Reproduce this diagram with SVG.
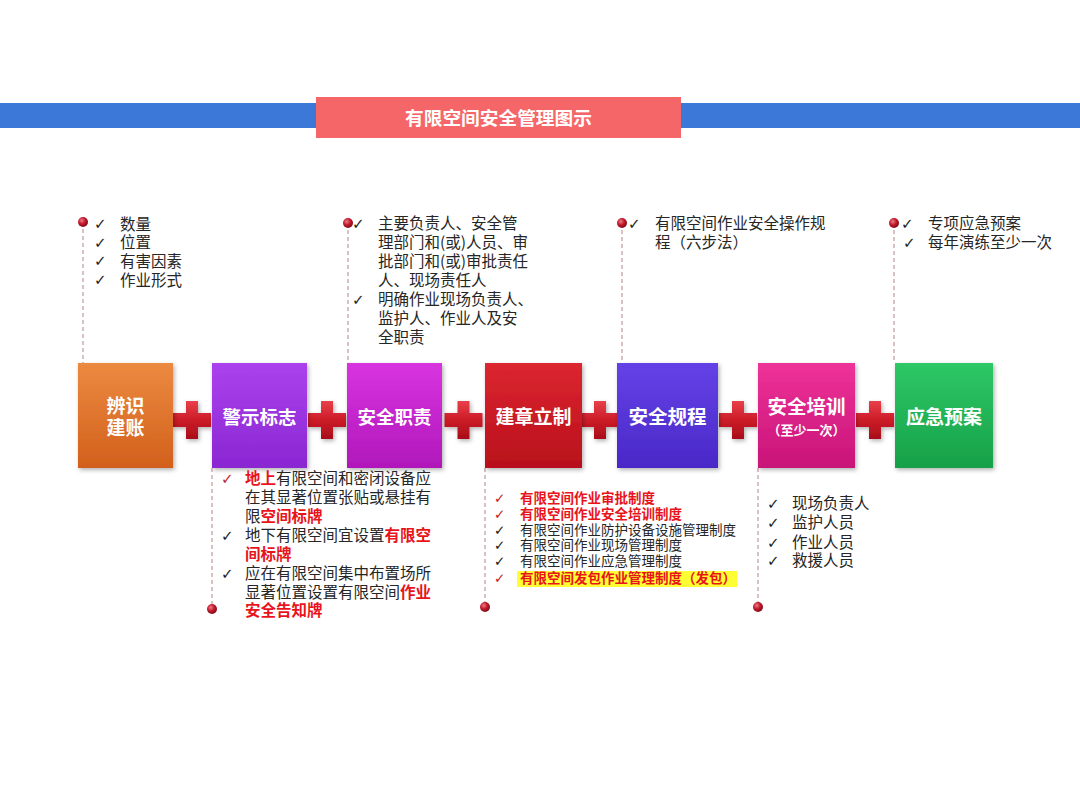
<svg xmlns="http://www.w3.org/2000/svg" width="1080" height="810" viewBox="0 0 1080 810">
<defs>
<style>
.t{font-family:"Noto Sans CJK SC","Noto Sans",sans-serif;fill:#262626;}
.ck{font-family:"DejaVu Sans",sans-serif;fill:#1e1e1e;}
.ckr{font-family:"DejaVu Sans",sans-serif;fill:#c0282e;}
.r{fill:#e8141c;font-weight:bold;}
.lbl{font-family:"Noto Sans CJK SC","Noto Sans",sans-serif;fill:#ffffff;font-weight:bold;text-anchor:middle;}
.dash{stroke:#c49a9a;stroke-width:1.2;stroke-dasharray:4 3;fill:none;}
</style>
<radialGradient id="dot" cx="0.38" cy="0.35" r="0.7">
<stop offset="0" stop-color="#f07a86"/>
<stop offset="0.5" stop-color="#c01a2c"/>
<stop offset="1" stop-color="#7a0a16"/>
</radialGradient>
<linearGradient id="gPlus" x1="0" y1="0" x2="0" y2="1">
<stop offset="0" stop-color="#e8404a"/>
<stop offset="0.5" stop-color="#cc1c28"/>
<stop offset="1" stop-color="#a80e1a"/>
</linearGradient>
<linearGradient id="g1" x1="0" y1="0" x2="0" y2="1"><stop offset="0" stop-color="#ec8a40"/><stop offset="1" stop-color="#d2601c"/></linearGradient>
<linearGradient id="g2" x1="0" y1="0" x2="0" y2="1"><stop offset="0" stop-color="#ab42ee"/><stop offset="1" stop-color="#8a26d2"/></linearGradient>
<linearGradient id="g3" x1="0" y1="0" x2="0" y2="1"><stop offset="0" stop-color="#d834e0"/><stop offset="1" stop-color="#b018ba"/></linearGradient>
<linearGradient id="g4" x1="0" y1="0" x2="0" y2="1"><stop offset="0" stop-color="#dc2630"/><stop offset="1" stop-color="#b8101c"/></linearGradient>
<linearGradient id="g5" x1="0" y1="0" x2="0" y2="1"><stop offset="0" stop-color="#6442e6"/><stop offset="1" stop-color="#4a28c8"/></linearGradient>
<linearGradient id="g6" x1="0" y1="0" x2="0" y2="1"><stop offset="0" stop-color="#ee3298"/><stop offset="1" stop-color="#c81478"/></linearGradient>
<linearGradient id="g7" x1="0" y1="0" x2="0" y2="1"><stop offset="0" stop-color="#2ec866"/><stop offset="1" stop-color="#17a048"/></linearGradient>
<filter id="sh" x="-10%" y="-10%" width="125%" height="125%">
<feDropShadow dx="1.5" dy="2" stdDeviation="2" flood-color="#000" flood-opacity="0.3"/>
</filter>
<path id="plus" d="M-6,-19 H6 V-7 H19 V7 H6 V19 H-6 V7 H-19 V-7 H-6 Z" fill="url(#gPlus)" filter="url(#sh)"/>
</defs>
<rect width="1080" height="810" fill="#ffffff"/>

<g id="header">
<rect x="0" y="103" width="1080" height="25" fill="#3c78d8"/>
<rect x="316" y="97" width="365" height="41" fill="#f56668"/>
<text class="lbl" x="498.5" y="124.5" font-size="18.7">有限空间安全管理图示</text>
</g>

<g id="connectors">
<line class="dash" x1="83" y1="222" x2="83" y2="363"/>
<line class="dash" x1="348" y1="223" x2="348" y2="363"/>
<line class="dash" x1="622" y1="223" x2="622" y2="363"/>
<line class="dash" x1="894" y1="223" x2="894" y2="363"/>
<line class="dash" x1="212" y1="468" x2="212" y2="609"/>
<line class="dash" x1="485" y1="468" x2="485" y2="607"/>
<line class="dash" x1="758" y1="468" x2="758" y2="607"/>
<circle cx="83" cy="222" r="5" fill="url(#dot)"/>
<circle cx="348" cy="223" r="5" fill="url(#dot)"/>
<circle cx="622" cy="223" r="5" fill="url(#dot)"/>
<circle cx="894" cy="223" r="5" fill="url(#dot)"/>
<circle cx="212" cy="609" r="5" fill="url(#dot)"/>
<circle cx="485" cy="607" r="5" fill="url(#dot)"/>
<circle cx="758" cy="607" r="5" fill="url(#dot)"/>
<use href="#plus" x="192" y="420"/>
<use href="#plus" x="327" y="420"/>
<use href="#plus" x="463.5" y="420"/>
<use href="#plus" x="600" y="420"/>
<use href="#plus" x="738" y="420"/>
<use href="#plus" x="875" y="420"/>
</g>

<g id="node1">
<rect x="78" y="363" width="95" height="105" fill="url(#g1)" filter="url(#sh)"/>
<text class="lbl" x="125.5" y="413" font-size="19">辨识</text>
<text class="lbl" x="125.5" y="435" font-size="19">建账</text>
</g>
<g id="node2">
<rect x="212" y="363" width="95" height="105" fill="url(#g2)" filter="url(#sh)"/>
<text class="lbl" x="259.5" y="424" font-size="18.5">警示标志</text>
</g>
<g id="node3">
<rect x="347" y="363" width="95" height="105" fill="url(#g3)" filter="url(#sh)"/>
<text class="lbl" x="394.5" y="424" font-size="18.5">安全职责</text>
</g>
<g id="node4">
<rect x="485" y="363" width="97" height="105" fill="url(#g4)" filter="url(#sh)"/>
<text class="lbl" x="533.5" y="424" font-size="19">建章立制</text>
</g>
<g id="node5">
<rect x="617" y="363" width="101" height="105" fill="url(#g5)" filter="url(#sh)"/>
<text class="lbl" x="667.5" y="424" font-size="19.5">安全规程</text>
</g>
<g id="node6">
<rect x="758" y="363" width="97" height="105" fill="url(#g6)" filter="url(#sh)"/>
<text class="lbl" x="806.5" y="414" font-size="19.5">安全培训</text>
<text class="lbl" x="806.5" y="435" font-size="13">（至少一次）</text>
</g>
<g id="node7">
<rect x="895" y="363" width="98" height="105" fill="url(#g7)" filter="url(#sh)"/>
<text class="lbl" x="944" y="424" font-size="19">应急预案</text>
</g>

<g id="note-top1" font-size="15.5">
<text class="ck" x="94" y="229" font-size="15">✓</text>
<text class="ck" x="94" y="248" font-size="15">✓</text>
<text class="ck" x="94" y="266" font-size="15">✓</text>
<text class="ck" x="94" y="285" font-size="15">✓</text>
<text class="t" x="120" y="229.5">数量</text>
<text class="t" x="120" y="248">位置</text>
<text class="t" x="120" y="266.5">有害因素</text>
<text class="t" x="120" y="285.5">作业形式</text>
</g>

<g id="note-top3" font-size="15.5">
<text class="ck" x="352" y="229" font-size="15">✓</text>
<text class="ck" x="352" y="305" font-size="15">✓</text>
<text class="t" x="378" y="229">主要负责人、安全管</text>
<text class="t" x="378" y="248">理部门和(或)人员、审</text>
<text class="t" x="378" y="267">批部门和(或)审批责任</text>
<text class="t" x="378" y="286">人、现场责任人</text>
<text class="t" x="378" y="305">明确作业现场负责人、</text>
<text class="t" x="378" y="324">监护人、作业人及安</text>
<text class="t" x="378" y="343">全职责</text>
</g>

<g id="note-top5" font-size="15.5">
<text class="ck" x="628" y="229" font-size="15">✓</text>
<text class="t" x="655" y="229">有限空间作业安全操作规</text>
<text class="t" x="655" y="248">程（六步法）</text>
</g>

<g id="note-top7" font-size="15.5">
<text class="ck" x="901" y="229" font-size="15">✓</text>
<text class="ck" x="903" y="248" font-size="15">✓</text>
<text class="t" x="928" y="229">专项应急预案</text>
<text class="t" x="928" y="248">每年演练至少一次</text>
</g>

<g id="note-bottom2" font-size="15.5">
<text class="ckr" x="221" y="484" font-size="15">✓</text>
<text class="ck" x="221" y="541" font-size="15">✓</text>
<text class="ck" x="221" y="579" font-size="15">✓</text>
<text class="t" x="245" y="484"><tspan class="r">地上</tspan>有限空间和密闭设备应</text>
<text class="t" x="245" y="503">在其显著位置张贴或悬挂有</text>
<text class="t" x="245" y="521.5">限<tspan class="r">空间标牌</tspan></text>
<text class="t" x="245" y="541"><tspan>地下有限空间宜设置</tspan><tspan class="r">有限空</tspan></text>
<text class="t" x="245" y="559.5"><tspan class="r">间标牌</tspan></text>
<text class="t" x="245" y="579">应在有限空间集中布置场所</text>
<text class="t" x="245" y="597.5">显著位置设置有限空间<tspan class="r">作业</tspan></text>
<text class="t" x="245" y="616"><tspan class="r">安全告知牌</tspan></text>
</g>

<g id="note-bottom4" font-size="13.5">
<rect x="517" y="571" width="220" height="16" fill="#ffff33"/>
<text class="ckr" x="494" y="503" font-size="13.5">✓</text>
<text class="ckr" x="494" y="519" font-size="13.5">✓</text>
<text class="ck" x="494" y="535" font-size="13.5">✓</text>
<text class="ck" x="494" y="550" font-size="13.5">✓</text>
<text class="ck" x="494" y="566" font-size="13.5">✓</text>
<text class="ckr" x="494" y="583" font-size="13.5">✓</text>
<text class="t" x="520" y="503"><tspan class="r">有限空间作业审批制度</tspan></text>
<text class="t" x="520" y="519"><tspan class="r">有限空间作业安全培训制度</tspan></text>
<text class="t" x="520" y="535">有限空间作业防护设备设施管理制度</text>
<text class="t" x="520" y="550">有限空间作业现场管理制度</text>
<text class="t" x="520" y="566">有限空间作业应急管理制度</text>
<text class="t" x="520" y="583"><tspan class="r">有限空间发包作业管理制度（发包）</tspan></text>
</g>

<g id="note-bottom6" font-size="15.5">
<text class="ck" x="767" y="509" font-size="15">✓</text>
<text class="ck" x="767" y="528" font-size="15">✓</text>
<text class="ck" x="767" y="548" font-size="15">✓</text>
<text class="ck" x="767" y="566" font-size="15">✓</text>
<text class="t" x="792" y="509">现场负责人</text>
<text class="t" x="792" y="528">监护人员</text>
<text class="t" x="792" y="548">作业人员</text>
<text class="t" x="792" y="566">救援人员</text>
</g>
</svg>
